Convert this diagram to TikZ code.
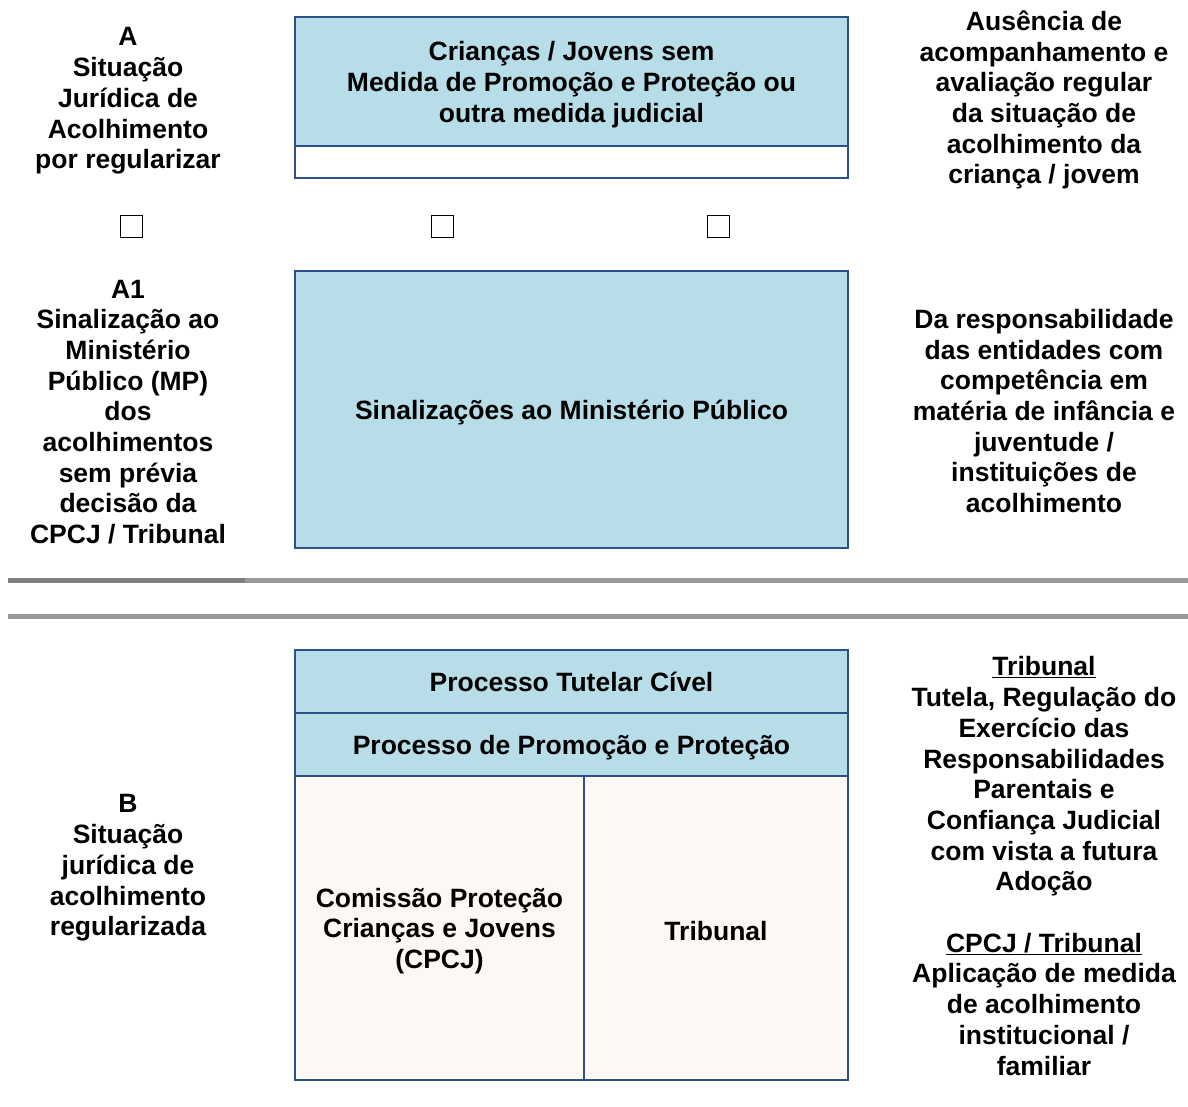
\documentclass[tikz,border=0pt]{standalone}
\usepackage{fontspec}
\setmainfont{Liberation Sans}
\usetikzlibrary{positioning}

\definecolor{boxblue}{HTML}{B7DDE8}
\definecolor{boxline}{HTML}{2A5189}
\definecolor{boxcream}{HTML}{FDF8F4}
\definecolor{rulegrey}{HTML}{999999}
\definecolor{ruledark}{HTML}{7F7F7F}

% texto de celula um pouco mais baixo
\newcommand{\celltext}[2][540pt]{\raisebox{-3pt}[\height][\depth]{\parbox{#1}{\centering #2}}}

\tikzset{
	lbl/.style={align=center, inner sep=0pt, font=\fontsize{26.5}{30.7}\selectfont\bfseries},
	cell/.style={lbl, draw=boxline, line width=2.5pt, outer sep=0pt, minimum width=553pt},
	bluecell/.style={cell, fill=boxblue},
	creamcell/.style={cell, fill=boxcream},
	tickbox/.style={draw=black, line width=1pt, minimum size=22pt, inner sep=0pt},
	seprule/.style={line width=5pt, rulegrey}
}

\begin{document}
\begin{tikzpicture}[x=1pt, y=-1pt]
	\useasboundingbox (0,0) rectangle (1188,1106);

	% situacao A
	\node[lbl]   (sitA)      at (128,101)    {A\\Situação\\Jurídica de\\Acolhimento\\por regularizar};
	\node[bluecell, minimum height=129pt] (semMedida) at (571.5,81.5)
		{\celltext{Crianças / Jovens sem\\Medida de Promoção e Proteção ou\\outra medida judicial}};
	\node[cell, fill=white, minimum height=32pt] (semMedidaB) [below=0pt of semMedida] {};
	\node[lbl]   (ausencia)  at (1044,100)   {Ausência de\\acompanhamento e\\avaliação regular\\da situação de\\acolhimento da\\criança / jovem};

	\node[tickbox] (tickA)  at (131,226) {};
	\node[tickbox] (tickB)  at (442,226) {};
	\node[tickbox] (tickC)  at (718,226) {};

	% situacao A1
	\node[lbl]   (sitA1)     at (128,412) {A1\\Sinalização ao\\Ministério\\Público (MP)\\dos\\acolhimentos\\sem prévia\\decisão da\\CPCJ / Tribunal};
	\node[bluecell, minimum height=277pt] (sinalMP) at (571.5,409.5) {\celltext{Sinalizações ao Ministério Público}};
	\node[lbl]   (respons)   at (1044,411)  {Da responsabilidade\\das entidades com\\competência em\\matéria de infância e\\juventude /\\instituições de\\acolhimento};

	% separadores
	\draw[seprule] (8,580) -- (1188,580);
	\draw[seprule, ruledark] (8,580) -- (245,580);
	\draw[seprule] (8,616) -- (1188,616);

	% situacao B
	\node[lbl]   (sitB)      at (128,868)   {B\\Situação\\jurídica de\\acolhimento\\regularizada};
	\node[bluecell, minimum height=63pt] (tutelar) at (571.5,681.5) {Processo Tutelar Cível};
	\node[bluecell, minimum height=63pt] (promocao) [below=0pt of tutelar] {\celltext{Processo de Promoção e Proteção}};
	\node[creamcell, minimum width=289pt, minimum height=304pt, anchor=north west] (cpcj) at (promocao.south west)
		{\celltext[280pt]{Comissão Proteção\\Crianças e Jovens\\(CPCJ)}};
	\node[creamcell, minimum width=264pt, minimum height=304pt] (tribunal) [right=0pt of cpcj] {\celltext[250pt]{Tribunal}};
	\node[lbl]   (medidas)   at (1044,866) {\underline{Tribunal}\\Tutela, Regulação do\\Exercício das\\Responsabilidades\\Parentais e\\Confiança Judicial\\com vista a futura\\Adoção\\[30.7pt]\underline{CPCJ / Tribunal}\\Aplicação de medida\\de acolhimento\\institucional /\\familiar};
\end{tikzpicture}
\end{document}
